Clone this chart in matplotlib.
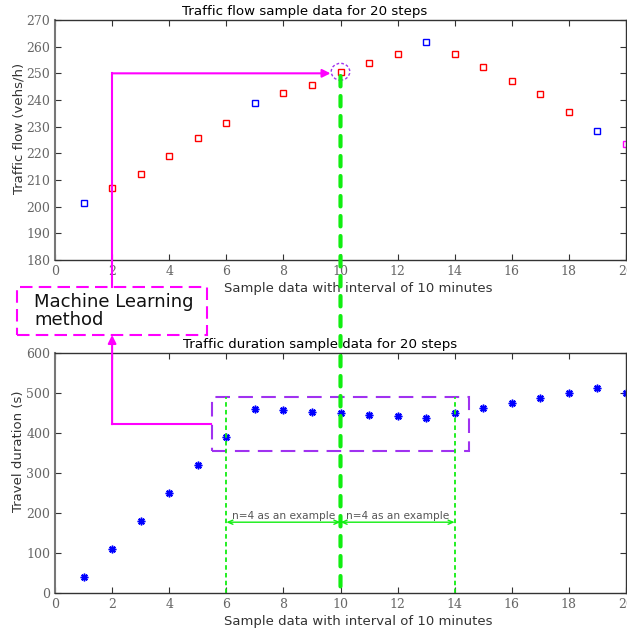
import numpy as np
import matplotlib.pyplot as plt
from matplotlib.patches import Rectangle, Ellipse, ConnectionPatch
from matplotlib.transforms import blended_transform_factory

steps = np.arange(1, 21)
flow = [201.5, 207.0, 212.4, 219.1, 225.9, 231.3, 239.0, 242.8, 245.8, 250.6,
        253.7, 257.4, 261.7, 257.4, 252.5, 247.0, 242.1, 235.4, 228.4, 223.5]
flow_colors = ['blue', 'red', 'red', 'red', 'red', 'red', 'blue', 'red', 'red', 'red',
               'red', 'red', 'blue', 'red', 'red', 'red', 'red', 'red', 'blue', 'magenta']
duration = [39, 109, 180, 250, 320, 390, 461, 457, 453, 449,
            446, 442, 437, 450, 462, 475, 487, 500, 512, 500]

xticks = np.arange(0, 21, 2)
flow_ticks = np.arange(180, 271, 10)
dur_ticks = np.arange(0, 601, 100)

green = '#11ee11'
magenta = '#ff00ff'
purple = '#a032f0'

fig = plt.figure(figsize=(6.27, 6.32), dpi=100)
ax1 = fig.add_axes([55/627, 1-260/632, 571/627, 240/632])
ax2 = fig.add_axes([55/627, 1-593/632, 571/627, 240/632])


def style_axes(ax, yticks):
    ax.set_xlim(0, 20)
    ax.set_ylim(yticks[0], yticks[-1])
    ax.set_xticks(xticks)
    ax.set_yticks(yticks)
    ax.tick_params(direction='in', length=4, top=True, right=True,
                   labelsize=9, labelcolor='#666666', color='#333333')
    for lab in ax.get_xticklabels() + ax.get_yticklabels():
        lab.set_family('DejaVu Serif')
    for s in ax.spines.values():
        s.set_color('#333333')
        s.set_linewidth(1.0)
    ax.spines['left'].set_color('#777777')
    ax.spines['left'].set_linewidth(1.5)


# top: traffic flow
for x, y, c in zip(steps, flow, flow_colors):
    ax1.plot(x, y, 's', mfc='none', mec=c, ms=4.6, mew=1.0, clip_on=False)
style_axes(ax1, flow_ticks)
ax1.text(0.437, 1.035, 'Traffic flow sample data for 20 steps', transform=ax1.transAxes,
         ha='center', va='center', fontsize=9.6)
ax1.set_xlabel('Sample data with interval of 10 minutes', fontsize=9.5, color='#333333')
ax1.xaxis.set_label_coords(0.531, -0.09)
ax1.set_ylabel('Traffic flow (vehs/h)', fontsize=9.5, color='#333333')
ax1.yaxis.set_label_coords(-0.052, 0.55)

ax1.add_patch(Ellipse((10, 250.6), 0.65, 6.3, fill=False, ec=purple, ls=(0, (2, 1.5)),
                      lw=1.0, clip_on=False))

# bottom: travel duration
ax2.plot(steps, duration, ls='none', marker=(8, 2, 0), color='blue', ms=5.5, mew=1.1,
         clip_on=False)
style_axes(ax2, dur_ticks)
ax2.text(0.464, 1.035, 'Traffic duration sample data for 20 steps', transform=ax2.transAxes,
         ha='center', va='center', fontsize=9.6)
ax2.set_xlabel('Sample data with interval of 10 minutes', fontsize=9.5, color='#333333')
ax2.xaxis.set_label_coords(0.531, -0.09)
ax2.set_ylabel('Travel duration (s)', fontsize=9.5, color='#333333')
ax2.yaxis.set_label_coords(-0.052, 0.59)

ax2.add_patch(Rectangle((5.5, 355), 9.0, 135, fill=False, ec=purple, lw=1.5,
                        ls=(0, (7, 4)), clip_on=False))
for xv in [6, 14]:
    ax2.plot([xv, xv], [0, 490], color=green, lw=1.3, ls=(0, (2.5, 1.8)))
for x0, x1 in [(6, 10), (10, 14)]:
    ax2.annotate('', xy=(x0, 177), xytext=(x1, 177),
                 arrowprops=dict(arrowstyle='<->,head_length=0.35,head_width=0.15',
                                 color=green, lw=1.0, shrinkA=0, shrinkB=0))
    ax2.text((x0 + x1) / 2, 181, 'n=4 as an example', ha='center', va='bottom',
             fontsize=7.6, color='#555555')

# thick green line linking both panels at step 10
con = ConnectionPatch(xyA=(10, 249), coordsA=ax1.transData, xyB=(10, 0), coordsB=ax2.transData,
                      color=green, lw=3.0, ls=(0, (2.5, 2.3)))
fig.add_artist(con)

# machine learning box
box_l, box_r = 17/627, 207/627
box_t, box_b = 1-287/632, 1-335/632
fig.add_artist(Rectangle((box_l, box_b), box_r-box_l, box_t-box_b, transform=fig.transFigure,
                         fill=False, ec=magenta, lw=1.5, ls=(0, (6, 3))))
fig.text(34/627, 1-311/632, 'Machine Learning\nmethod', fontsize=13, color='#111111',
         va='center', ha='left', linespacing=1.05)

t1 = blended_transform_factory(ax1.transData, fig.transFigure)
yf250 = fig.transFigure.inverted().transform(ax1.transData.transform((0, 250)))[1]
fig.add_artist(plt.Line2D([2, 2], [box_t, yf250], transform=t1, color=magenta, lw=1.5))
ax1.annotate('', xy=(9.65, 250), xytext=(2, 250),
             arrowprops=dict(arrowstyle='-|>', color=magenta, lw=1.5, mutation_scale=12,
                             shrinkA=0, shrinkB=0), annotation_clip=False)

t2 = blended_transform_factory(ax2.transData, fig.transFigure)
yf420 = fig.transFigure.inverted().transform(ax2.transData.transform((0, 422)))[1]
fig.add_artist(plt.Line2D([5.45, 2], [yf420, yf420], transform=t2, color=magenta, lw=1.5))
ax2.annotate('', xy=(2, box_b), xycoords=t2, xytext=(2, yf420), textcoords=t2,
             arrowprops=dict(arrowstyle='-|>', color=magenta, lw=1.5, mutation_scale=12,
                             shrinkA=0, shrinkB=0), annotation_clip=False)

fig.savefig('out.png', dpi=100)
